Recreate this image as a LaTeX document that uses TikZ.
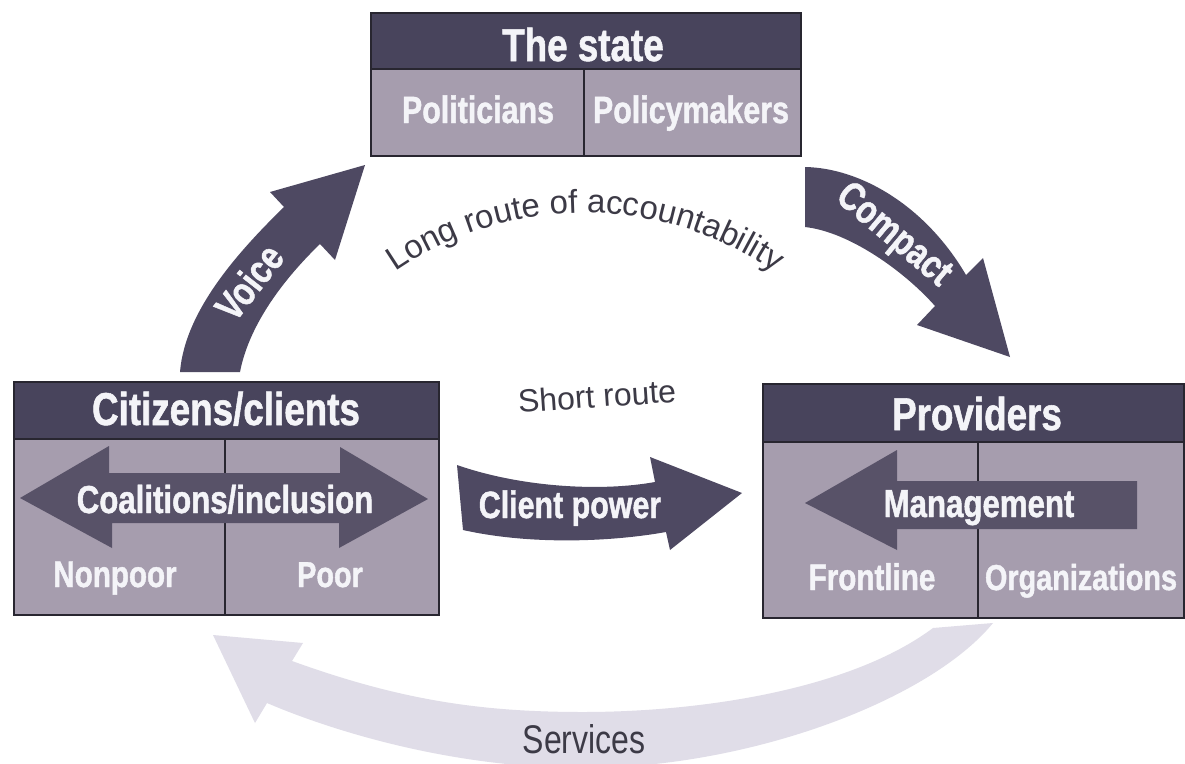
\documentclass[tikz,border=0pt]{standalone}
\usepackage{fontspec}
\setmainfont{Liberation Sans}
\newfontfamily\cond[FakeStretch=0.8, BoldFeatures={FakeBold=1.2}]{Liberation Sans}
\usetikzlibrary{decorations.text}
\newcommand\fs[1]{\fontsize{#1}{#1}\selectfont}
\definecolor{hdr}{RGB}{72,68,92}
\definecolor{cellc}{RGB}{166,157,174}
\definecolor{edgec}{RGB}{40,38,48}
\definecolor{arr}{RGB}{78,73,98}
\definecolor{inarr}{RGB}{88,82,104}
\definecolor{svc}{RGB}{224,221,232}
\definecolor{txt}{RGB}{60,58,70}
\definecolor{wtxt}{RGB}{244,244,248}
\begin{document}
\begin{tikzpicture}[x=1pt,y=-1pt,
  hdrbox/.style={draw=edgec, fill=hdr, line width=1.5pt, inner sep=0pt, anchor=north west},
  cellbox/.style={draw=edgec, fill=cellc, line width=1.5pt, inner sep=0pt, anchor=north west},
  lab/.style={text=wtxt, anchor=base, inner sep=0pt, font=\cond\bfseries\fs{#1}},
  plain/.style={text=txt, inner sep=0pt, font=\fs{#1}}]
\useasboundingbox (0,0) rectangle (1185,763);
\fill[white] (0,0) rectangle (1185,763);

% Services arrow (behind)
\fill[svc] (213,635) -- (303,643) -- (292,661) .. controls (400,700) and (480,712) .. (583,712)
  .. controls (700,712) and (850,690) .. (933,628) -- (993,623)
  .. controls (930,700) and (750,768) .. (583,768)
  .. controls (450,768) and (330,730) .. (267,703) -- (255,723) -- cycle;

% The state
\node[hdrbox, minimum width=430pt, minimum height=56pt] (stateH) at (370,12) {};
\node[cellbox, minimum width=213pt, minimum height=87pt] (stateL) at (370,68) {};
\node[cellbox, minimum width=217pt, minimum height=87pt] (stateR) at (583,68) {};

% Citizens/clients
\node[hdrbox, minimum width=425pt, minimum height=57pt] (citH) at (13,381) {};
\node[cellbox, minimum width=211pt, minimum height=176pt] (citL) at (13,438) {};
\node[cellbox, minimum width=214pt, minimum height=176pt] (citR) at (224,438) {};

% Providers
\node[hdrbox, minimum width=421pt, minimum height=58pt] (proH) at (762,383) {};
\node[cellbox, minimum width=215pt, minimum height=176pt] (proL) at (762,441) {};
\node[cellbox, minimum width=206pt, minimum height=176pt] (proR) at (977,441) {};

% Voice arrow
\fill[arr] (180,372) .. controls (185,310) and (240,250) .. (284,207) -- (270,192) -- (365,165)
  -- (335,260) -- (320,244) .. controls (290,273) and (250,320) .. (240,372) -- cycle;
% Compact arrow
\fill[arr] (805,167) .. controls (860,168) and (925,205) .. (966,275) -- (983,258) -- (1010,357)
  -- (917,325) -- (935,306) .. controls (905,272) and (850,232) .. (805,227) -- cycle;
% Client power arrow
\fill[arr] (457,465) .. controls (520,487) and (600,492) .. (655,482) -- (650,457) -- (742,493)
  -- (670,550) -- (666,532) .. controls (610,542) and (530,545) .. (463,530) -- cycle;
% Coalitions double arrow
\fill[inarr] (20,498) -- (109,446) -- (109,473) -- (340,473) -- (340,447) -- (428,499)
  -- (339,548) -- (339,523) -- (112,523) -- (112,548) -- cycle;
% Management arrow
\fill[inarr] (1137,481) -- (897,481) -- (897,450) -- (805,503) -- (897,550) -- (897,529)
  -- (1137,529) -- cycle;

% Labels
\node[lab=46] (tState) at (583,61) {The state};
\node[lab=38] (tPol) at (478,123) {Politicians};
\node[lab=38] (tPmk) at (691,123) {Policymakers};
\node[lab=46] (tCit) at (226,425) {Citizens/clients};
\node[lab=39] (tCoal) at (225,513) {Coalitions/inclusion};
\node[lab=37] (tNon) at (115,587) {Nonpoor};
\node[lab=36] (tPoor) at (330,587) {Poor};
\node[lab=46] (tPro) at (977,430) {Providers};
\node[lab=39] (tMan) at (979,517) {Management};
\node[lab=37] (tFront) at (872,590) {Frontline};
\node[lab=36] (tOrg) at (1081,590) {Organizations};
\node[lab=38] (tClient) at (570,518) {Client power};
\node[lab=40, anchor=center, rotate=52] (tVoice) at (249,282) {Voice};
\node[lab=40, anchor=center, rotate=-40] (tComp) at (893,236) {Compact};
\node[text=txt, anchor=base, inner sep=0pt, font=\cond\fs{40}] (tSvc) at (584,753) {Services};
\node[plain=32, rotate=4] (tShort) at (597,396) {Short route};

\coordinate (lrA) at (383.4,280.5);
\path[decorate, decoration={text along path, text align=center, text color=txt,
  text={|\fs{33}|Long route of accountability}}]
  (lrA) arc[start angle=-127, end angle=-53, radius=335];
\end{tikzpicture}
\end{document}
